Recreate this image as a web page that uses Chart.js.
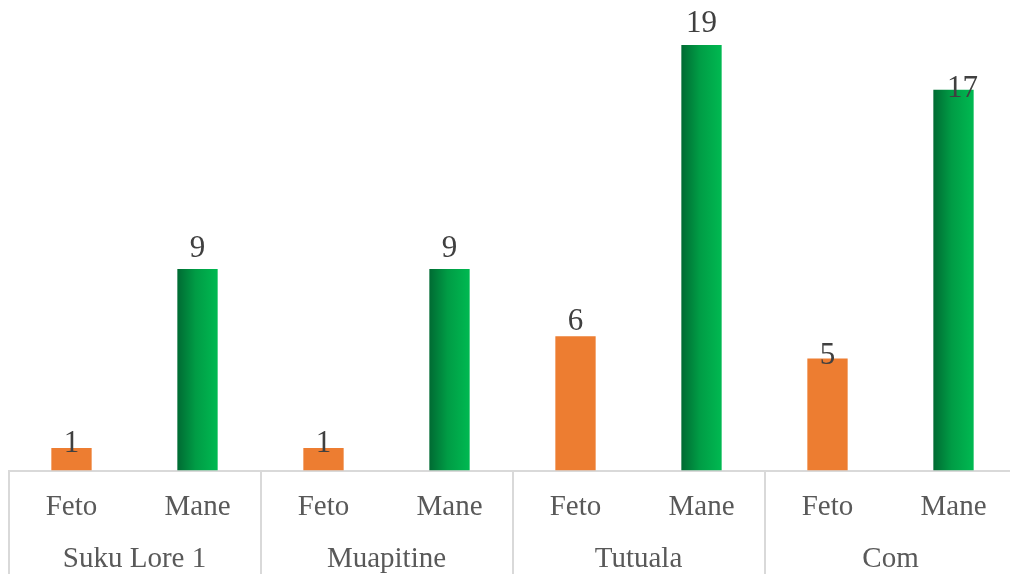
<!DOCTYPE html>
<html>
<head>
<meta charset="utf-8">
<script src="https://cdn.jsdelivr.net/npm/chart.js@4/dist/chart.umd.min.js"></script>
<style>
  html, body { margin: 0; padding: 0; background: #fff; overflow: hidden; }
  #wrap { width: 1020px; height: 574px; }
</style>
</head>
<body>
<div id="wrap"><canvas id="cv"></canvas></div>
<script>
// ---- data ----
const kategori = ['Feto', 'Mane', 'Feto', 'Mane', 'Feto', 'Mane', 'Feto', 'Mane'];
const grupu    = ['Suku Lore 1', 'Muapitine', 'Tutuala', 'Com'];
const valores  = [1, 9, 1, 9, 6, 19, 5, 17];

// ---- gaya ----
const ORANYE  = '#ed7d31';
const GARIS   = '#d9d9d9';
const TEKS    = '#595959';
const SERIF   = '"Liberation Serif", "DejaVu Serif", serif';
// geser label nilai (dx, dy dari puncak batang) meniru posisi label Excel
const geserLabel = [[0, 4], [0, -12], [0, 4], [0, -12], [0, -6], [0, -13], [0, 5], [9, 7]];

// gradasi hijau horizontal per batang
function hijau(c) {
  const ch = c.chart;
  if (!ch.scales.x) return '#00a046';
  const x = ch.scales.x.getPixelForValue(c.dataIndex);
  const g = ch.ctx.createLinearGradient(x - 20, 0, x + 20, 0);
  g.addColorStop(0, '#006b33');
  g.addColorStop(0.45, '#009c45');
  g.addColorStop(1, '#00b951');
  return g;
}

// ---- plugin label nilai ----
const labelNilai = {
  id: 'labelNilai',
  afterDatasetsDraw(chart) {
    const ctx = chart.ctx;
    const meta = chart.getDatasetMeta(0);
    ctx.save();
    ctx.font = '31px ' + SERIF;
    ctx.fillStyle = '#404040';
    ctx.textAlign = 'center';
    ctx.textBaseline = 'alphabetic';
    meta.data.forEach((bar, i) => {
      const [dx, dy] = geserLabel[i];
      ctx.fillText(String(valores[i]), bar.x + dx, bar.y + dy);
    });
    ctx.restore();
  }
};

new Chart(document.getElementById('cv').getContext('2d'), {
  type: 'bar',
  data: {
    labels: kategori,
    datasets: [{
      data: valores,
      backgroundColor: c => (c.dataIndex % 2 === 0 ? ORANYE : hijau(c)),
      borderWidth: 0,
      barPercentage: 0.32,
      categoryPercentage: 1
    }]
  },
  options: {
    responsive: true,
    maintainAspectRatio: false,
    animation: false,
    layout: { padding: { left: 8.5, right: 3.5, top: 22.7, bottom: 0 } },
    plugins: { legend: { display: false }, tooltip: { enabled: false } },
    scales: {
      y: { display: false, min: 0, max: 20 },
      x: {
        position: 'bottom',
        afterFit: s => { s.height = 52; },
        border: { display: true, color: GARIS, width: 2 },
        grid: {
          offset: true,
          drawOnChartArea: false,
          drawTicks: true,
          tickLength: 55,
          lineWidth: 2,
          color: c => (c.index % 2 === 0 ? GARIS : 'rgba(0,0,0,0)')
        },
        ticks: {
          color: TEKS, font: { family: SERIF, size: 29 },
          padding: -36, maxRotation: 0, autoSkip: false
        }
      },
      x2: {
        type: 'category',
        labels: grupu,
        position: 'bottom',
        offset: true,
        afterFit: s => { s.height = 51.5; },
        border: { display: false },
        grid: {
          offset: true,
          drawOnChartArea: false,
          drawTicks: true,
          tickLength: 52,
          lineWidth: 2,
          color: GARIS
        },
        ticks: {
          color: TEKS, font: { family: SERIF, size: 29 },
          padding: -33, maxRotation: 0, autoSkip: false
        }
      }
    }
  },
  plugins: [labelNilai]
});
</script>
</body>
</html>
